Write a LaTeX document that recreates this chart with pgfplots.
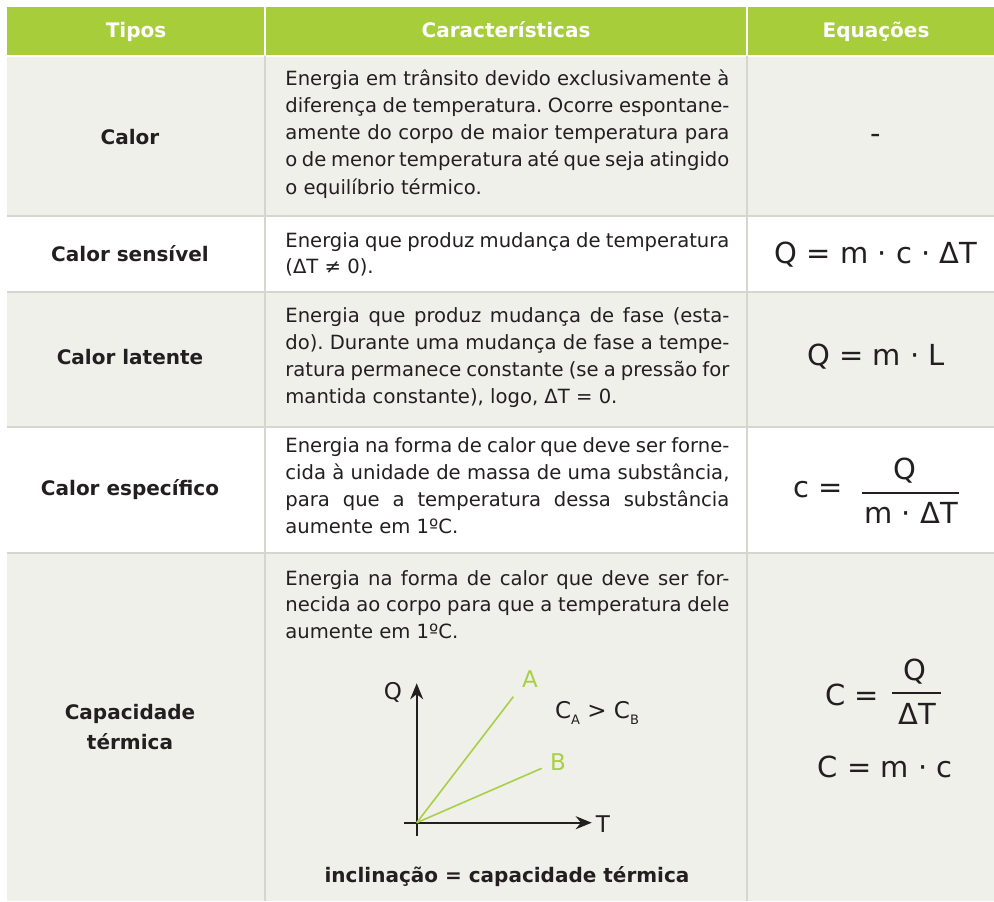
\documentclass[border=0pt]{standalone}
\usepackage{pgfplots}
\pgfplotsset{compat=1.18}
\usepackage{fontspec}
\setmainfont{DejaVu Sans}
\usetikzlibrary{arrows.meta}
\definecolor{hdr}{HTML}{A7CE3A}
\definecolor{rowg}{HTML}{F0F0EB}
\definecolor{rulec}{HTML}{D6D6CE}
\definecolor{ink}{HTML}{231F20}
\definecolor{lime}{HTML}{A9CF46}
\frenchspacing

% one justified line of the middle column, and a last (ragged) line
\newcommand\jline[2]{\node[anchor=mid west, font=\fontsize{9.8}{12}\selectfont] at (285,#1) {\hbox to 222pt{#2}};}
\newcommand\lline[2]{\node[anchor=mid west, font=\fontsize{9.8}{12}\selectfont] at (285,#1) {#2};}

\begin{document}
\begin{tikzpicture}[x=0.5pt, y=-0.5pt, every node/.style={inner sep=0pt, text=ink},
    font=\fontsize{10}{12}\selectfont]
  \path[use as bounding box] (0,0) rectangle (994,901);
  \fill[white] (0,0) rectangle (994,901);
  % backgrounds
  \fill[hdr] (7,7) rectangle (994,55);
  \fill[rowg] (7,56) rectangle (994,216);
  \fill[rowg] (7,292) rectangle (994,427);
  \fill[rowg] (7,553) rectangle (994,901);
  % rules
  \draw[white, line width=1pt] (265,7) -- (265,55) (747,7) -- (747,55) (7,55.5) -- (994,55.5);
  \draw[rulec, line width=1pt] (265,56) -- (265,901) (747,56) -- (747,901);
  \draw[rulec, line width=1pt] (7,216) -- (994,216) (7,292) -- (994,292)
    (7,427) -- (994,427) (7,553) -- (994,553);

  % header
  \begin{scope}[every node/.append style={anchor=base, text=white, font=\fontsize{10}{12}\selectfont\bfseries}]
    \node at (136,37) {Tipos};
    \node at (506,37) {Características};
    \node at (876,37) {Equações};
  \end{scope}

  % first column
  \begin{scope}[every node/.append style={font=\fontsize{10}{12}\selectfont\bfseries}]
    \node at (130,137) {Calor};
    \node at (130,254) {Calor sensível};
    \node at (130,357) {Calor latente};
    \node at (130,490) {Calor específico};
    \node at (130,714) {Capacidade};
    \node at (130,742) {térmica};
  \end{scope}

  % second column
  \jline{80}{Energia em trânsito devido exclusivamente à}
  \jline{107}{diferença de temperatura. Ocorre espontane-}
  \jline{134}{amente do corpo de maior temperatura para}
  \jline{161}{o de menor temperatura até que seja atingido}
  \lline{189}{o equilíbrio térmico.}

  \jline{242}{Energia que produz mudança de temperatura}
  \lline{268}{(ΔT ≠ 0).}

  \jline{317}{Energia que produz mudança de fase (esta-}
  \jline{344}{do). Durante uma mudança de fase a tempe-}
  \jline{371}{ratura permanece constante (se a pressão for}
  \lline{398}{mantida constante), logo, ΔT = 0.}

  \jline{447}{Energia na forma de calor que deve ser forne-}
  \jline{474}{cida à unidade de massa de uma substância,}
  \jline{501}{para que a temperatura dessa substância}
  \lline{528}{aumente em 1ºC.}

  \jline{580}{Energia na forma de calor que deve ser for-}
  \jline{606}{necida ao corpo para que a temperatura dele}
  \lline{633}{aumente em 1ºC.}

  \node[font=\fontsize{10}{12}\selectfont\bfseries] at (507,877) {inclinação = capacidade térmica};

  % third column
  \begin{scope}[every node/.append style={font=\fontsize{14.5}{16}\selectfont}]
    \node at (876,139) {-};
    \node at (876,255) {Q = m · c · ΔT};
    \node at (876,357) {Q = m · L};
    \node at (818,490) {c =};
    \node at (905,471) {Q};
    \node at (911,513) {m · ΔT};
    \node at (852,695) {C =};
    \node at (915,672) {Q};
    \node at (917,714) {ΔT};
    \node at (885,767) {C = m · c};
  \end{scope}
  \draw[ink, line width=1pt] (862,493) -- (959,493) (892,693) -- (941,693);

  % small graph
  \begin{axis}[at={(208.35pt,-411.35pt)}, anchor=origin, x=0.5pt, y=0.5pt,
      axis lines=middle, xmin=-13, xmax=175, ymin=-13, ymax=139.4,
      ticks=none, clip=false,
      axis line style={ink, line width=1pt, -{Stealth[length=8pt, width=6.5pt]}}]
    \addplot[lime, line width=0.8pt] coordinates {(0,0) (96.6,126)};
    \addplot[lime, line width=0.8pt] coordinates {(0,0) (125,54.4)};
    \node[font=\fontsize{11.5}{13}\selectfont] at (axis cs:-23.7,130.7) {Q};
    \node[font=\fontsize{11.5}{13}\selectfont] at (axis cs:186.3,-1.3) {T};
    \node[text=lime, font=\fontsize{11.5}{13}\selectfont] at (axis cs:113.3,143.7) {A};
    \node[text=lime, font=\fontsize{11.5}{13}\selectfont] at (axis cs:141.3,60.7) {B};
    \node[font=\fontsize{11.5}{13}\selectfont] at (axis cs:180.3,109.7)
      {C\raisebox{-0.5ex}{\fontsize{6.5}{7}\selectfont A} > C\raisebox{-0.5ex}{\fontsize{6.5}{7}\selectfont B}};
  \end{axis}
\end{tikzpicture}
\end{document}
